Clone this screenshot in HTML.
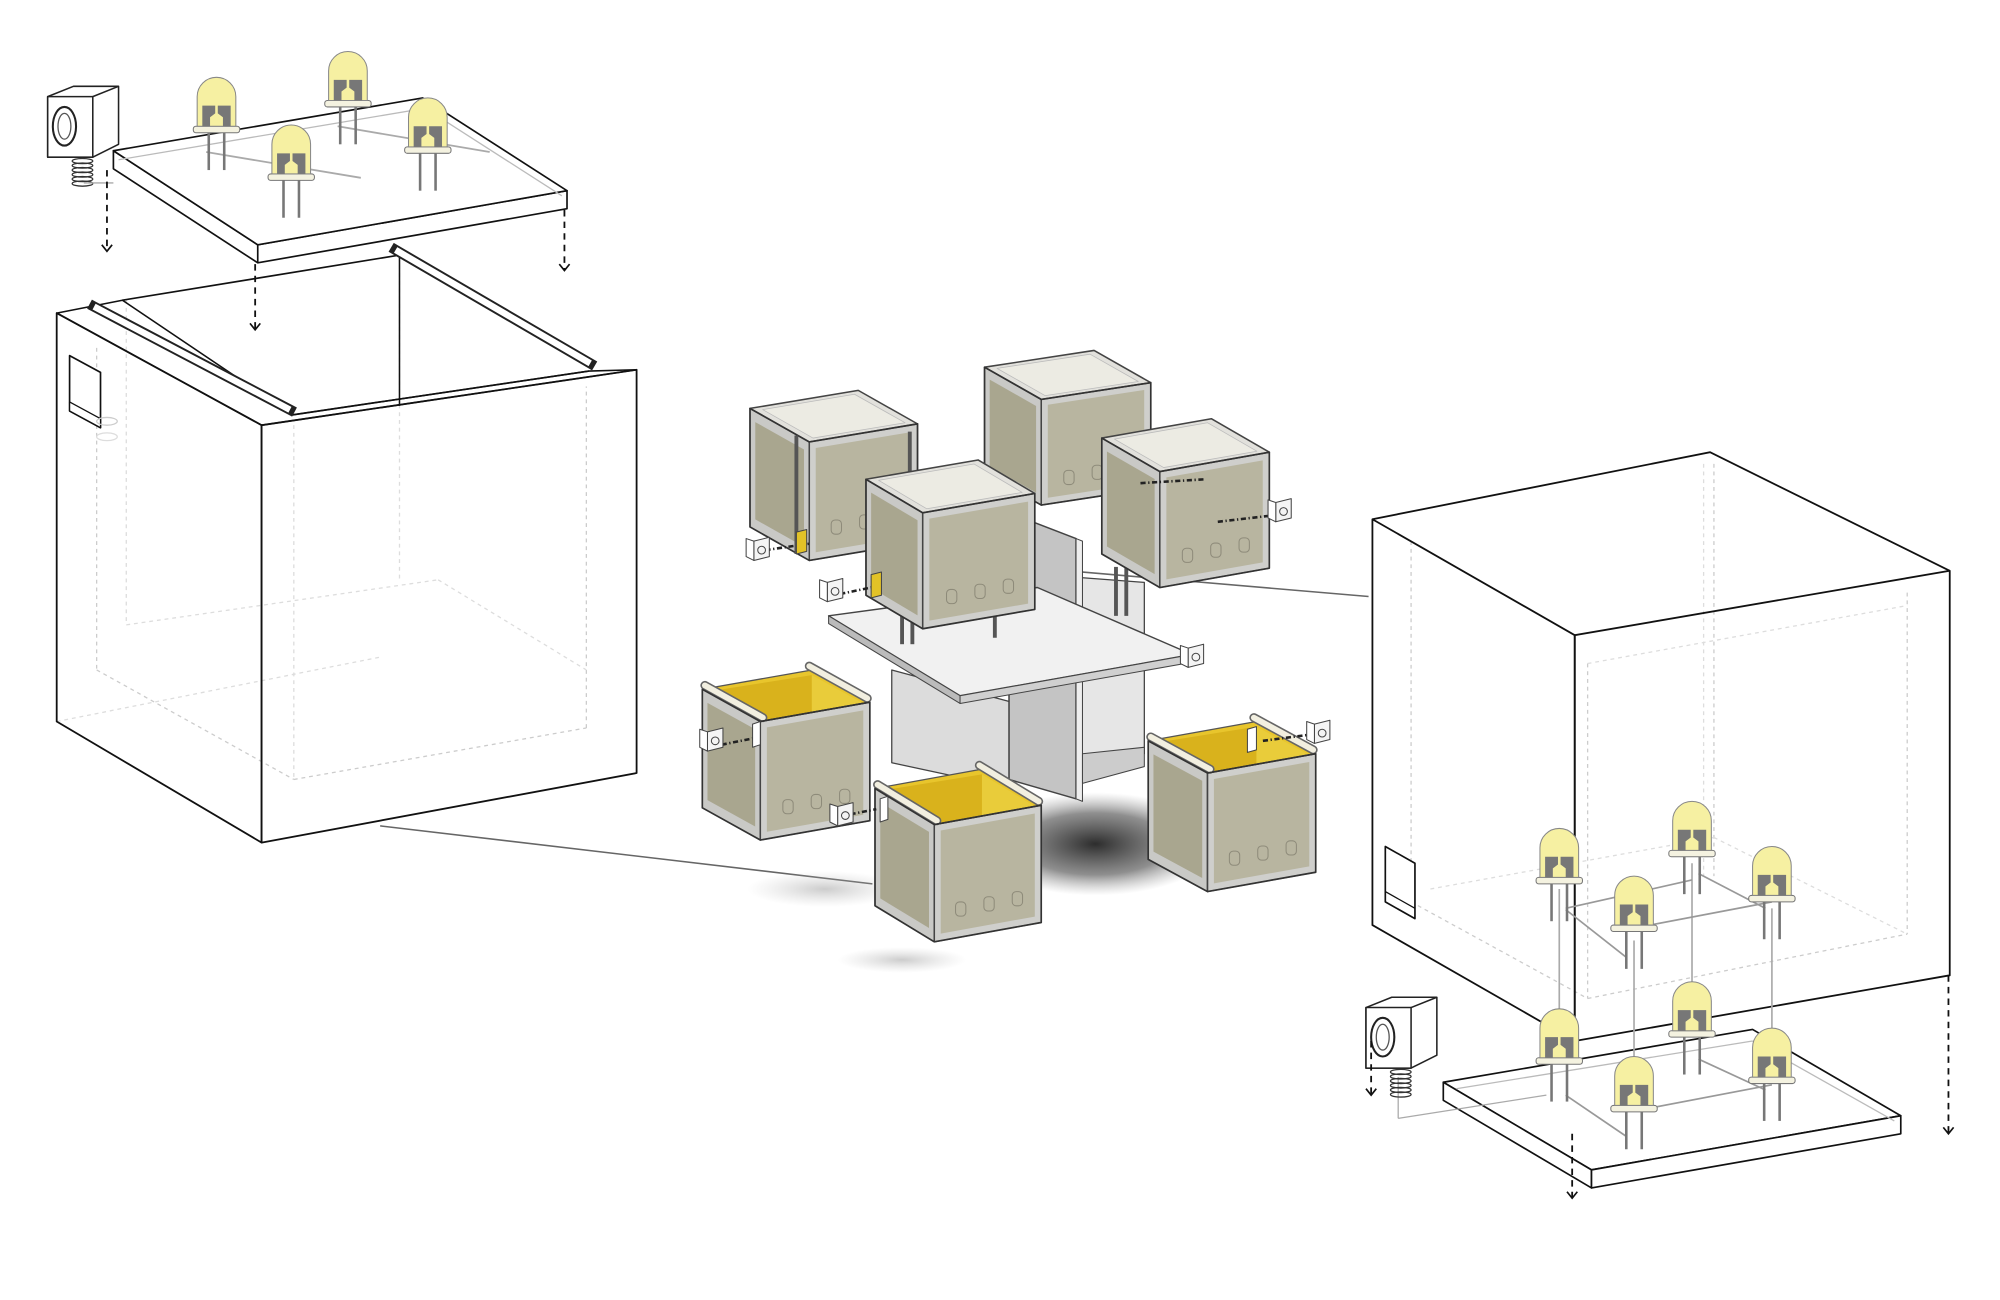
<!DOCTYPE html>
<html><head><meta charset="utf-8">
<style>
html,body{margin:0;padding:0;background:#fff;}
svg{display:block;width:2000px;height:1300px;}
</style></head>
<body>
<svg id="s" xmlns="http://www.w3.org/2000/svg" viewBox="0 0 1552 1009" preserveAspectRatio="none">
<defs>
<radialGradient id="sh" cx="50%" cy="50%" r="50%">
<stop offset="0" stop-color="#222" stop-opacity="0.95"/>
<stop offset="0.6" stop-color="#444" stop-opacity="0.6"/>
<stop offset="1" stop-color="#888" stop-opacity="0"/>
</radialGradient>
<radialGradient id="sh2" cx="50%" cy="50%" r="50%">
<stop offset="0" stop-color="#999" stop-opacity="0.5"/>
<stop offset="1" stop-color="#bbb" stop-opacity="0"/>
</radialGradient>
</defs>
<g id="g"></g>
</svg>
<script>
var g=document.getElementById('g');var out='';
function P(a){return a.map(function(p){return p[0].toFixed(1)+','+p[1].toFixed(1)}).join(' ');}
function poly(pts,fill,stroke,sw,extra){out+='<polygon points="'+P(pts)+'" fill="'+fill+'" stroke="'+(stroke||'none')+'" stroke-width="'+(sw||1)+'" stroke-linejoin="round" '+(extra||'')+'/>';}
function line(x1,y1,x2,y2,st,sw,extra){out+='<line x1="'+x1+'" y1="'+y1+'" x2="'+x2+'" y2="'+y2+'" stroke="'+st+'" stroke-width="'+(sw||1)+'" '+(extra||'')+'/>';}
function add(a,b){return [a[0]+b[0],a[1]+b[1]];}
function shrink(pts,f){var cx=0,cy=0;pts.forEach(function(p){cx+=p[0];cy+=p[1]});cx/=pts.length;cy/=pts.length;return pts.map(function(p){return [cx+(p[0]-cx)*f,cy+(p[1]-cy)*f]});}
function arrow(x,y1,y2){line(x,y1,x,y2,'#111',1.4,'stroke-dasharray="5,4"');out+='<polyline points="'+(x-4)+','+(y2-5)+' '+x+','+y2+' '+(x+4)+','+(y2-5)+'" fill="none" stroke="#111" stroke-width="1.3"/>';}
function led(cx,top,s){s=s||1;var w=15*s,h=38*s;
 line(cx-6*s,top+h+4,cx-6*s,top+h+34*s,'#777',2);line(cx+6*s,top+h+4,cx+6*s,top+h+34*s,'#777',2);
 out+='<rect x="'+(cx-18*s)+'" y="'+(top+h)+'" width="'+(36*s)+'" height="'+(5*s)+'" rx="2" fill="#f4f2e0" stroke="#777" stroke-width="0.8"/>';
 out+='<path d="M'+(cx-w)+','+(top+h)+' V'+(top+w)+' A'+w+','+w+' 0 0 1 '+(cx+w)+','+(top+w)+' V'+(top+h)+' Z" fill="#f6f0a2" stroke="#888" stroke-width="0.8"/>';
 out+='<polygon points="'+P([[cx-11*s,top+22*s],[cx-1*s,top+22*s],[cx-1*s,top+28*s],[cx-5*s,top+31*s],[cx-5*s,top+h],[cx-11*s,top+h]])+'" fill="#777"/>';
 out+='<polygon points="'+P([[cx+1*s,top+22*s],[cx+11*s,top+22*s],[cx+11*s,top+h],[cx+5*s,top+h],[cx+5*s,top+31*s],[cx+1*s,top+28*s]])+'" fill="#777"/>';
}
function speaker(x,y){
 poly([[x,y],[x+20,y-8],[x+55,y-8],[x+55,y+37],[x+35,y+47],[x,y+47]],'#fff','#222',1.2);
 poly([[x,y],[x+35,y],[x+35,y+47],[x,y+47]],'#fff','#222',1.2);
 line(x+35,y,x+55,y-8,'#222',1.2);
 out+='<ellipse cx="'+(x+13)+'" cy="'+(y+23)+'" rx="9" ry="15" fill="#fff" stroke="#222" stroke-width="1.6"/>';
 out+='<ellipse cx="'+(x+13)+'" cy="'+(y+23)+'" rx="5" ry="10" fill="none" stroke="#555" stroke-width="1"/>';
 for(var i=0;i<6;i++){out+='<ellipse cx="'+(x+27)+'" cy="'+(y+50+i*3.5)+'" rx="8" ry="2" fill="none" stroke="#333" stroke-width="1"/>';}
}
function cube(F,L,R,h,open){
 var FL=add(F,L),B=add(FL,R),FR=add(F,R),d=[0,h];
 var lf=[FL,F,add(F,d),add(FL,d)], rf=[F,FR,add(FR,d),add(F,d)], top=[F,FL,B,FR];
 if(open){
  poly(top,'#e8c52c','#555',1);
  poly([add(FL,[3,2]),add(B,[0,4]),add(B,[0,40]),add(FL,[3,40])],'#d9b21c','none');
  poly([add(B,[0,4]),add(FR,[-3,2]),add(FR,[-3,40]),add(B,[0,40])],'#e9cc3a','none');
 }
 poly(lf,'#c9c9c6','#555',1); poly(shrink(lf,0.82),'#a9a68f','none');
 poly(rf,'#cfcfcc','#555',1); poly(shrink(rf,0.88),'#b8b5a0','none');
 // ghost leds
 var c=[(F[0]+FR[0])/2,F[1]+h*0.55];
 for(var i=0;i<3;i++){out+='<rect x="'+(c[0]-25+i*22)+'" y="'+(c[1]+10-i*4)+'" width="8" height="11" rx="3" fill="none" stroke="#8e8b7a" stroke-width="0.8"/>';}
 if(!open){
  poly(top,'#e2e1dc','#444',1.2); poly(shrink(top,0.85),'#ecebe3','#bbb',0.6);
  line(F[0],F[1],F[0],F[1]+h,'#444',1.2);
 } else {
  // rails
  line(F[0]+2,F[1]-3,FL[0]+2,FL[1]-3,'#666',7,'stroke-linecap="round"');
  line(F[0]+2,F[1]-3,FL[0]+2,FL[1]-3,'#f2efe0',4.5,'stroke-linecap="round"');
  line(FR[0]-2,FR[1]-3,B[0]-2,B[1]-3,'#666',7,'stroke-linecap="round"');
  line(FR[0]-2,FR[1]-3,B[0]-2,B[1]-3,'#f2efe0',4.5,'stroke-linecap="round"');
  line(F[0],F[1],FR[0],FR[1],'#333',1.2);
  line(F[0],F[1],F[0],F[1]+h,'#444',1.2);
 }
 poly([FL,F,FR,add(FR,d),add(F,d),add(FL,d)],'none','#333',1.3);
}
function smallSpk(x,y){poly([[x,y],[x+12,y-3],[x+12,y+12],[x,y+15]],'#f4f4f4','#444',0.8);poly([[x-6,y-2],[x,y],[x,y+15],[x-6,y+12]],'#fff','#444',0.8);out+='<circle cx="'+(x+6)+'" cy="'+(y+7)+'" r="3" fill="none" stroke="#444" stroke-width="0.8"/>';}

/* ===== LEFT BOX ===== */
// dashed interior
var dg='stroke-dasharray="3,3"';
line(75,270,75,520,'#ccc',1,dg);line(75,520,228,605,'#ccc',1,dg);line(228,605,455,565,'#ccc',1,dg);line(455,565,455,300,'#ccc',1,dg);
line(98,233,98,485,'#ddd',1,dg);line(98,485,340,450,'#ddd',1,dg);line(340,450,455,520,'#ddd',1,dg);line(310,200,310,450,'#ddd',1,dg);
line(228,330,228,605,'#ddd',1,dg);line(44,560,295,510,'#ddd',1,dg);
poly([[44,243],[203,330],[203,654],[44,560]],'none','#111',1.4);
poly([[203,330],[494,287],[494,600],[203,654]],'none','#111',1.4);
poly([[44,243],[95,233],[227,322],[457,288],[494,287],[203,330]],'none','#111',1.2);
out+='<polyline points="95,233 310,198 460,285" fill="none" stroke="#111" stroke-width="1.3"/>';
line(310,200,310,315,'#111',1.2);line(227,322,457,288,'#111',1.3);
line(73,238,225,318,'#222',8,'stroke-linecap="square"');line(73,238,225,318,'#fff',5);
line(307,194,458,282,'#222',8,'stroke-linecap="square"');line(307,194,458,282,'#fff',5);
poly([[54,276],[78,289],[78,332],[54,319]],'#fff','#111',1.3);poly([[54,312],[78,325],[78,332],[54,319]],'#fff','#111',1);
out+='<ellipse cx="83" cy="327" rx="8" ry="3" fill="none" stroke="#ccc"/><ellipse cx="83" cy="339" rx="8" ry="3" fill="none" stroke="#ddd"/>';
// lid
poly([[88,131],[200,204],[440,162],[440,148],[200,190],[88,117]],'#fff','#111',1.3);
poly([[88,117],[328,76],[440,148],[200,190]],'#fff','#111',1.3);
line(200,190,200,204,'#111',1.3);
line(92,124,330,84,'#bbb',1);line(330,84,436,152,'#bbb',1);
line(160,118,280,138,'#aaa',1.4);line(262,98,380,118,'#aaa',1.4);
led(168,60);led(270,40);led(226,97);led(332,76);
speaker(37,75);
line(65,142,88,142,'#aaa',1);
arrow(83,132,195);arrow(198,205,256);arrow(438,163,210);

/* ===== CONNECTORS ===== */
line(295,641,677,686,'#666',1.2);
line(805,441,1062,463,'#666',1.2);

/* ===== MIDDLE ===== */
out+='<ellipse cx="850" cy="655" rx="95" ry="40" fill="url(#sh)"/>';
out+='<ellipse cx="640" cy="690" rx="60" ry="14" fill="url(#sh2)"/>';
out+='<ellipse cx="700" cy="745" rx="50" ry="10" fill="url(#sh2)"/>';
cube([808,310],[-44,-25],[85,-13],82,false);
// central panels
poly([[835,448],[888,452],[888,585],[835,598]],'#e6e6e6','#444',1);
poly([[692,520],[785,545],[785,612],[692,592]],'#dcdcdc','#444',1);
poly([[783,398],[835,418],[835,620],[783,605]],'#c4c4c4','#444',1.2);
poly([[835,418],[840,420],[840,622],[835,620]],'#eee','#444',0.8);
poly([[840,585],[888,580],[888,595],[840,608]],'#ccc','#444',0.8);
cube([628,343],[-46,-26],[84,-14],92,false);
line(706,335,706,425,'#555',3);line(618,338,618,430,'#555',3);
line(866,440,866,478,'#555',3);line(874,440,874,478,'#555',3);
cube([900,366],[-45,-26],[85,-15],90,false);
// shelf
poly([[643,478],[805,456],[925,508],[745,540]],'#f1f1f1','#444',1.1);
poly([[643,478],[745,540],[745,546],[643,484]],'#bbb','#444',0.8);
poly([[745,540],[925,508],[925,514],[745,546]],'#d0d0d0','#444',0.8);
line(700,470,700,500,'#555',3);line(708,470,708,500,'#555',3);line(772,470,772,495,'#555',3);
cube([716,398],[-44,-26],[87,-15],90,false);
// dotted wires
line(594,427,628,422,'#222',2,'stroke-dasharray="4,2,1,2"');
line(652,461,676,456,'#222',2,'stroke-dasharray="4,2,1,2"');
poly([[676,446],[684,444],[684,462],[676,464]],'#e2c227','#444',0.8);
poly([[618,413],[626,411],[626,428],[618,430]],'#e2c227','#444',0.8);
line(885,375,935,372,'#222',2,'stroke-dasharray="4,2,1,2"');line(945,405,988,400,'#222',2,'stroke-dasharray="4,2,1,2"');
smallSpk(585,420);smallSpk(642,452);smallSpk(990,390);smallSpk(922,503);
cube([590,560],[-45,-25],[85,-15],92,true);
line(560,578,590,572,'#222',2,'stroke-dasharray="4,2,1,2"');smallSpk(549,568);
poly([[584,562],[590,560],[590,578],[584,580]],'#fff','#444',0.8);
cube([937,600],[-46,-25],[84,-15],92,true);
line(980,575,1018,570,'#222',2,'stroke-dasharray="4,2,1,2"');smallSpk(1020,562);
poly([[968,566],[975,564],[975,582],[968,584]],'#fff','#444',0.8);
cube([725,640],[-46,-28],[83,-15],91,true);
line(660,632,680,628,'#222',2,'stroke-dasharray="4,2,1,2"');smallSpk(650,626);
poly([[683,620],[689,618],[689,636],[683,638]],'#fff','#444',0.8);

/* ===== RIGHT BOX ===== */
line(1095,420,1095,700,'#ccc',1,dg);line(1330,360,1330,680,'#ccc',1,dg);line(1322,360,1322,680,'#ddd',1,dg);
line(1232,515,1232,775,'#ccc',1,dg);line(1480,460,1480,725,'#ccc',1,dg);line(1232,775,1480,725,'#ccc',1,dg);
line(1095,700,1232,775,'#ccc',1,dg);line(1110,690,1330,650,'#ddd',1,dg);line(1330,650,1480,725,'#ddd',1,dg);
line(1232,515,1480,470,'#ddd',1,dg);
poly([[1065,403],[1222,493],[1222,808],[1065,718]],'none','#111',1.4);
poly([[1222,493],[1513,443],[1513,757],[1222,808]],'none','#111',1.4);
out+='<polyline points="1065,403 1327,351 1513,443" fill="none" stroke="#111" stroke-width="1.4"/>';
poly([[1075,657],[1098,670],[1098,713],[1075,700]],'#fff','#111',1.3);line(1075,692,1098,705,'#111',1);
// base slab
poly([[1120,840],[1360,799],[1475,866],[1235,908]],'#fff','#111',1.3);
poly([[1120,840],[1235,908],[1235,922],[1120,854]],'#fff','#111',1.3);
poly([[1235,908],[1475,866],[1475,880],[1235,922]],'#fff','#111',1.3);
line(1130,845,1360,808,'#bbb',1);line(1360,808,1470,870,'#bbb',1);
// wires
line(1210,690,1210,800,'#aaa',1.3);line(1268,730,1268,838,'#aaa',1.3);line(1313,670,1313,780,'#aaa',1.3);line(1375,705,1375,815,'#aaa',1.3);
line(1085,836,1085,868,'#aaa',1);line(1085,868,1200,850,'#aaa',1);
line(1215,706,1262,743,'#999',1.3);line(1318,678,1370,705,'#999',1.3);line(1270,720,1375,700,'#999',1.3);line(1215,705,1313,683,'#999',1.3);
line(1215,850,1262,882,'#999',1.3);line(1318,822,1370,846,'#999',1.3);line(1270,862,1375,842,'#999',1.3);
led(1210,643);led(1313,622);led(1268,680);led(1375,657);
led(1210,783);led(1313,762);led(1268,820);led(1375,798);
speaker(1060,782);
arrow(1064,808,850);arrow(1220,880,930);arrow(1512,757,880);
g.innerHTML=out;
</script>
</body></html>
